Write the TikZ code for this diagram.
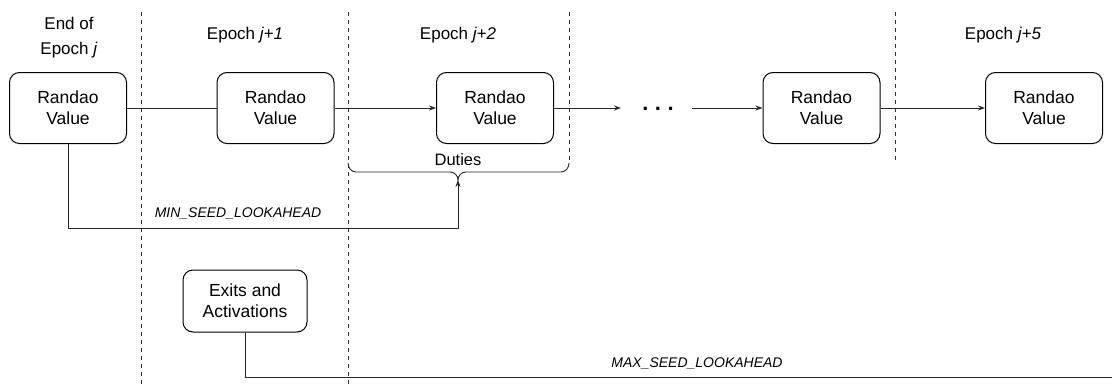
\documentclass[tikz,border=0pt]{standalone}
\usepackage{fontspec}
\setmainfont{Liberation Sans}
\usetikzlibrary{arrows.meta}
\tikzset{
  box/.style={draw=black, line width=1pt, rounded corners=10pt, minimum width=117pt,
    minimum height=71pt, align=center, font=\fontsize{17.5}{21}\selectfont, inner sep=0pt},
  smallbox/.style={box, minimum width=124pt, minimum height=62pt},
  sep/.style={draw=black!80, line width=0.8pt, dash pattern=on 4pt off 4pt},
  conn/.style={draw=black!85, line width=1pt},
  arr/.style={conn, -{Stealth[length=7pt,width=5pt]}},
  lbl/.style={align=center, font=\fontsize{17}{25}\selectfont, inner sep=0pt},
  const/.style={font=\fontsize{14}{16}\selectfont\itshape, inner sep=0pt}
}
\begin{document}
\begin{tikzpicture}[x=1pt,y=-1pt]
\useasboundingbox[fill=white] (0,0) rectangle (1112,388);

% epoch separators
\draw[sep] (141,12) -- (141,388);
\draw[sep] (348,12) -- (348,388);
\draw[sep] (569,12) -- (569,163);
\draw[sep] (895,12) -- (895,163);

% column headings
\node[lbl] (h0) at (69,38) {End of\\Epoch \textit{j}};
\node[lbl] (h1) at (245,35) {Epoch \textit{j+1}};
\node[lbl] (h2) at (458,35) {Epoch \textit{j+2}};
\node[lbl] (h5) at (1003,35) {Epoch \textit{j+5}};

% randao values
\node[box] (r0) at (68,108) {Randao\\Value};
\node[box] (r1) at (275.5,108) {Randao\\Value};
\node[box] (r2) at (495,108) {Randao\\Value};
\node[box] (r4) at (821.5,108) {Randao\\Value};
\node[box] (r5) at (1044,108) {Randao\\Value};

% chain of values
\coordinate (gapL) at (621,108);
\coordinate (gapR) at (692,108);
\node[anchor=base, font=\fontsize{22}{22}\selectfont\bfseries, inner sep=0pt] (dots) at (658,110)
  {.\hspace{6.5pt}.\hspace{6.5pt}.};
\draw[conn] (r0.east) -- (r1.west);
\draw[arr] (r1.east) -- (r2.west);
\draw[arr] (r2.east) -- (gapL);
\draw[arr] (gapR) -- (r4.west);
\draw[arr] (r4.east) -- (r5.west);

% duties bracket over epoch j+2
\coordinate (tip) at (458,180);
\draw[conn, line width=0.9pt] (348,163) to[out=-90,in=180] (356,172) -- (450,172)
  to[out=0,in=90] (tip) to[out=90,in=180] (466,172) -- (561,172) to[out=0,in=-90] (569,163);
\node[font=\fontsize{16.5}{18}\selectfont, inner sep=0pt] (duties) at (458,160) {Duties};

% seed lookahead to duties
\coordinate (m1) at (68,228);
\coordinate (m2) at (458,228);
\draw[arr] (r0.south) -- (m1) -- (m2) -- (tip);
\node[const] (minla) at (238,213) {MIN\_SEED\_LOOKAHEAD};

% exits and activations
\node[smallbox] (ea) at (245,301) {Exits and\\Activations};
\coordinate (e1) at (245,377);
\coordinate (e2) at (1112,377);
\draw[conn] (ea.south) -- (e1) -- (e2);
\node[const] (maxla) at (697,363) {MAX\_SEED\_LOOKAHEAD};
\end{tikzpicture}
\end{document}
